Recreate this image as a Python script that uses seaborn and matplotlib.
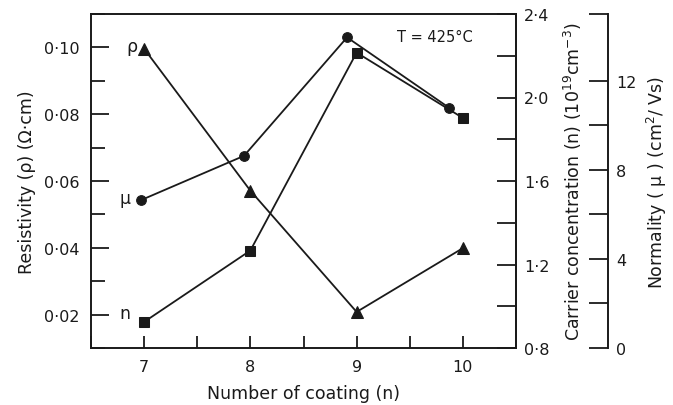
import matplotlib
matplotlib.use("Agg")
import matplotlib.pyplot as plt
import seaborn as sns
import numpy as np
from matplotlib.ticker import MultipleLocator, FixedLocator, FuncFormatter

# ---- data ----
coatings = [7, 8, 9, 10]
resistivity = [0.0996, 0.0571, 0.0208, 0.0399]          # ohm cm (left axis)
mu_x = [6.97, 7.94, 8.91, 9.87]
mobility = [6.64, 8.63, 13.95, 10.79]                  # cm^2/Vs (outer right axis)
carrier = [0.925, 1.267, 2.215, 1.902]                 # 1e19 cm^-3 (inner right axis)

sns.set_theme(style="ticks")
plt.rcParams['font.family'] = ['DejaVu Sans']
plt.rcParams['axes.linewidth'] = 1.3

fig, ax = plt.subplots(figsize=(6.73, 4.06), dpi=100)
fig.subplots_adjust(left=91/673, right=516/673, bottom=1-349/406, top=1-15/406)

ax2 = ax.twinx()
ax3 = ax.twinx()
ax3.spines['right'].set_position(('axes', (608-91)/(516-91)))
for a in (ax2, ax3):
    for s in ('left', 'top', 'bottom'):
        a.spines[s].set_visible(False)

lw = 1.3
sns.lineplot(x=coatings, y=resistivity, ax=ax, color='k', marker='^',
             markersize=8, markeredgecolor='k', linewidth=lw)
sns.lineplot(x=coatings, y=carrier, ax=ax2, color='k', marker='s',
             markersize=7, markeredgecolor='k', linewidth=lw)
sns.lineplot(x=mu_x, y=mobility, ax=ax3, color='k', marker='o',
             markersize=7, markeredgecolor='k', linewidth=lw)

for a in (ax, ax2, ax3):
    for s in a.spines.values():
        s.set_color('k')
        s.set_linewidth(1.4)

ax.set_xlim(6.5, 10.5)
ax.set_ylim(0.01, 0.11)
ax2.set_ylim(0.8, 2.4)
ax3.set_ylim(0, 15)

fs = 11.5
lfs = 12.5
# x axis
ax.xaxis.set_major_locator(FixedLocator(coatings))
ax.xaxis.set_minor_locator(MultipleLocator(0.5))
ax.tick_params(axis='x', which='both', direction='in', length=9, width=1.3,
               colors='k', labelsize=fs, pad=8)
# left
ax.yaxis.set_major_locator(MultipleLocator(0.02))
ax.yaxis.set_minor_locator(MultipleLocator(0.01))
ax.yaxis.set_major_formatter(FuncFormatter(lambda v, p: f"{v:.2f}".replace('.', '\u00b7')))
ax.tick_params(axis='y', which='major', direction='in', length=13, width=1.3,
               colors='k', labelsize=fs, pad=8)
ax.tick_params(axis='y', which='minor', direction='in', length=10, width=1.3, colors='k')
ax.set_yticks([0.02, 0.04, 0.06, 0.08, 0.10])

# inner right
ax2.yaxis.set_major_locator(FixedLocator([0.8, 1.2, 1.6, 2.0, 2.4]))
ax2.yaxis.set_minor_locator(FixedLocator([1.0, 1.4, 1.8, 2.2]))
ax2.yaxis.set_major_formatter(FuncFormatter(lambda v, p: f"{v:.1f}".replace('.', '\u00b7')))
ax2.tick_params(axis='y', which='both', direction='in', length=14, width=1.3,
                colors='k', labelsize=fs, pad=6)

# outer right
ax3.yaxis.set_major_locator(FixedLocator([0, 4, 8, 12]))
ax3.yaxis.set_minor_locator(FixedLocator([2, 6, 10, 15]))
ax3.yaxis.set_major_formatter(FuncFormatter(lambda v, p: f"{int(v)}"))
ax3.tick_params(axis='y', which='both', direction='in', length=14, width=1.3,
                colors='k', labelsize=fs, pad=6)

lab = dict(fontsize=lfs, color='k')
ax.set_xlabel("Number of coating (n)", labelpad=7, **lab)
ax.set_ylabel("Resistivity (\u03c1) (\u03a9\u00b7cm)", labelpad=6, **lab)
ax2.set_ylabel("Carrier concentration (n) (10$^{19}$cm$^{-3}$)", labelpad=9, **lab)
ax3.set_ylabel("Normality ( \u03bc ) (cm$^{2}$/ Vs)", labelpad=6, **lab)

ax.text(6.885, 0.1005, "\u03c1", fontsize=fs+1, ha='center', va='center', color='k')
ax.text(6.82, 0.055, "\u03bc", fontsize=fs+1, ha='center', va='center', color='k')
ax.text(6.82, 0.0205, "n", fontsize=fs+1, ha='center', va='center', color='k')
ax.text(9.74, 0.1034, "T = 425\u00b0C", fontsize=fs-1, ha='center', va='center', color='k')

fig.savefig("out.png", dpi=100)
